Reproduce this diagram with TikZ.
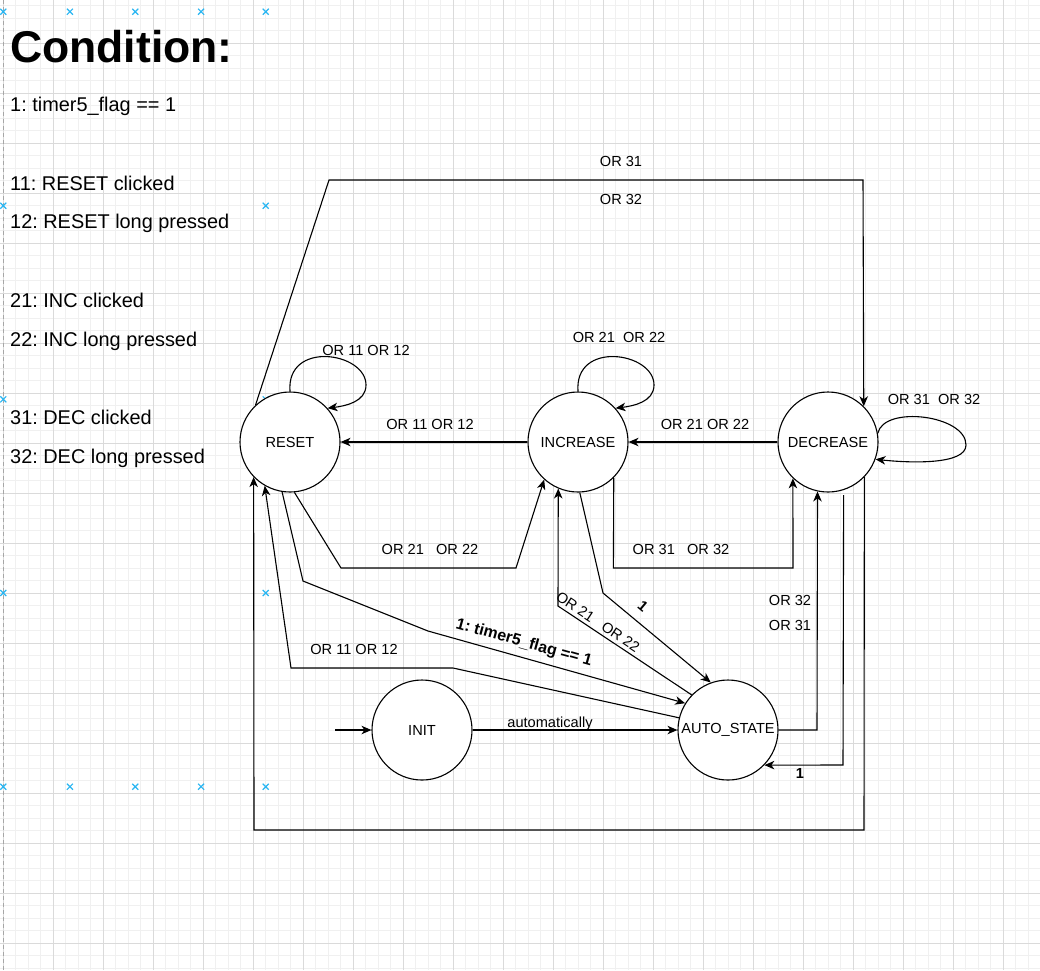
\documentclass[tikz,border=0pt]{standalone}
\usepackage{fontspec}
\setmainfont{Liberation Sans}
\usetikzlibrary{arrows.meta}
\definecolor{gmin}{HTML}{F0F0F0}
\definecolor{gmaj}{HTML}{DADADA}
\definecolor{selblue}{HTML}{29B6F2}
\frenchspacing
\begin{document}
\begin{tikzpicture}[x=1pt,y=-1pt,
  state/.style={circle,draw,line width=1.1pt,minimum size=100pt,inner sep=0pt,fill=white,font=\fontsize{14.6}{17}\selectfont},
  arr/.style={line width=1.1pt,-{Stealth[length=10pt,width=8.5pt,inset=3pt]}},
  ln/.style={line width=1.1pt},
  lbl/.style={font=\fontsize{14.6}{17}\selectfont,inner sep=0pt},
  blbl/.style={font=\fontsize{14.6}{17}\selectfont\bfseries,inner sep=0pt},
  leg/.style={font=\fontsize{19.9}{23}\selectfont,anchor=base west,inner sep=0pt},
  selmark/.style={draw=selblue,line width=1.2pt}
  ]
% background and grid
\fill[white] (0,0) rectangle (1040,970);
\useasboundingbox (0,0) rectangle (1040,970);
\foreach \x in {3.3,15.8,...,1040} \draw[gmin,line width=0.9pt] (\x,0) -- (\x,970);
\foreach \y in {5.8,18.3,...,970} \draw[gmin,line width=0.9pt] (0,\y) -- (1040,\y);
\foreach \x in {3.3,53.3,...,1040} \draw[gmaj,line width=0.9pt] (\x,0) -- (\x,970);
\foreach \y in {43.3,93.3,...,970} \draw[gmaj,line width=0.9pt] (0,\y) -- (1040,\y);
\draw[gray!70,line width=0.9pt,dash pattern=on 4pt off 3pt] (3.3,0) -- (3.3,970);
% selection marks
\foreach \p in {(3.3,11.7),(69.9,11.7),(135.3,11.7),(201.1,11.7),(265.7,11.7),
  (3.3,205.7),(265.7,205.7),(3.3,399.3),(265.7,399.3),(3.3,593),(265.7,593),
  (3.3,786.7),(69.9,786.7),(135.3,786.7),(201.1,786.7),(265.7,786.7)}
  \draw[selmark] \p ++(-3,-3) -- ++(6,6) \p ++(-3,3) -- ++(6,-6);

% legend
\node[leg,font=\fontsize{44.5}{50}\selectfont\bfseries] (ttl) at (10,62) {Condition:};
\node[leg] (l1) at (10,111) {1: timer5\_flag == 1};
\node[leg] (l11) at (10,190) {11: RESET clicked};
\node[leg] (l12) at (10,228.5) {12: RESET long pressed};
\node[leg] (l21) at (10,307) {21: INC clicked};
\node[leg] (l22) at (10,346) {22: INC long pressed};
\node[leg] (l31) at (10,424) {31: DEC clicked};
\node[leg] (l32) at (10,463) {32: DEC long pressed};

% states
\node[state] (reset) at (290,442) {RESET};
\node[state] (inc) at (578,442) {INCREASE};
\node[state] (dec) at (828,442) {DECREASE};
\node[state] (init) at (422,730) {INIT};
\node[state] (auto) at (728,730) {AUTO\_STATE};
\coordinate (ini) at (335,730);

% self loops
\draw[arr] (reset.90) .. controls (286,340) and (366,352) .. (366,385) .. controls (366,402) and (345,406) .. (reset.42);
\node[lbl] (lr) at (366,350) {OR 11 OR 12};
\draw[arr] (inc.90) .. controls (574,340) and (654,352) .. (654,385) .. controls (654,402) and (633,406) .. (inc.42);
\node[lbl] (li) at (619,337) {OR 21\ \ OR 22};
\draw[arr] (dec.10) .. controls (884,405) and (966,415) .. (966,445) .. controls (966,465) and (910,463) .. (dec.-20);
\node[lbl] (ld) at (934,399) {OR 31\ \ OR 32};

% horizontal edges
\draw[arr] (inc.180) -- (reset.0);
\node[lbl] (lir) at (430,424) {OR 11 OR 12};
\draw[arr] (dec.180) -- (inc.0);
\node[lbl] (ldi) at (705,424) {OR 21 OR 22};

% reset -> inc (below)
\draw[arr] (reset.-85) -- (341,568) -- (516,568) -- (inc.-132);
\node[lbl] (lri) at (430,549) {OR 21\ \ \ OR 22};
% inc -> dec (below)
\draw[arr] (inc.-45) -- (613.4,568) -- (793,568) -- (dec.-134.4);
\node[lbl] (lid) at (681,549) {OR 31\ \ \ OR 32};

% inc -> auto
\draw[arr] (inc.-88) -- (603,593) -- (auto.110);
\node[blbl,rotate=-40] (lia) at (643,606) {1};
% auto -> inc
\draw[arr] (auto.136) -- (558,606) -- (inc.-113.6);
\node[lbl,rotate=-33.6] (lai) at (598,622) {OR 21\ \ \ OR 22};

% reset -> auto
\draw[arr] (reset.-99) -- (303,581) -- (428,631) -- (auto.148);
\node[font=\fontsize{16}{19}\selectfont\bfseries,inner sep=0pt,rotate=-15.6] (lra) at (524,643) {1: timer5\_flag == 1};
% auto -> reset
\draw[arr] (auto.166) -- (453,668) -- (291,668) -- (reset.-120);
\node[lbl] (lar) at (354,649) {OR 11 OR 12};

% init
\draw[arr] (ini) -- (init.180);
\draw[arr] (init.0) -- (auto.180);
\node[lbl] (lauto) at (550,724) {automatically};

% auto -> dec
\draw[arr] (auto.0) -- (817,730) -- (dec.-102.7);
\node[lbl] (lad1) at (790,600) {OR 32};
\node[lbl] (lad2) at (790,625) {OR 31};
% dec -> auto
\draw[arr] ([yshift=-5pt]dec.-72.5) -- (843,765) -- (auto.-44.4);
\node[blbl] (lda) at (800,773) {1};

% dec -> reset (bottom)
\draw[arr] (dec.-44) -- (864,830) -- (254,830) -- (reset.-136);
% reset -> dec (top)
\draw[arr] (reset.133) -- (329,180) -- (863,180) -- (dec.45.6);
\node[lbl] (lrd1) at (621,161) {OR 31};
\node[lbl] (lrd2) at (621,199) {OR 32};
\end{tikzpicture}
\end{document}
